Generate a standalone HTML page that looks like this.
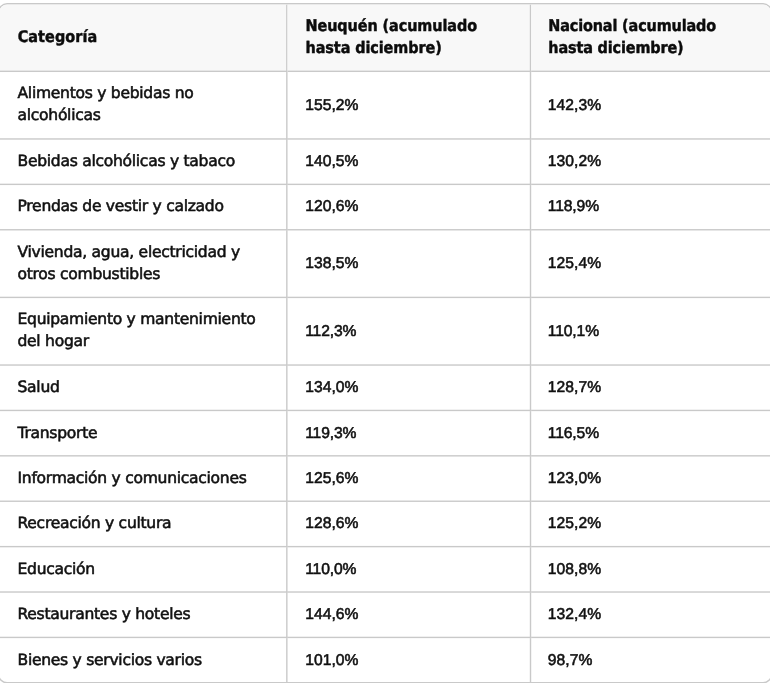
<!DOCTYPE html>
<html lang="es">
<head>
<meta charset="utf-8">
<title>Inflación por categoría</title>
<style>
  html, body { margin: 0; padding: 0; background: #fff; }
  body { width: 770px; height: 683px; overflow: hidden; position: relative; }
  .wrap {
    position: absolute; left: -1.990px; top: 2.705px; width: 1670.98px;
    transform-origin: 0 0; transform: scale(0.46325);
    border: 3px solid #c9c9c9; border-radius: 19.6px; overflow: hidden;
    box-sizing: border-box; background: #fff;
  }
  table {
    border-collapse: separate; border-spacing: 0; text-rendering: geometricPrecision; table-layout: fixed; width: 100%;
    font-family: "DejaVu Sans", "Liberation Sans", sans-serif;
    font-size: 33.6px; letter-spacing: -0.6px; line-height: 47.4px; color: #111;
    -webkit-text-stroke: 1.24px #111;
  }
  th, td {
    padding: 0 28px 0 39.07px; text-align: left; vertical-align: middle;
    border-bottom: 3px solid #c9c9c9; border-right: 3px solid #c9c9c9;
    box-sizing: border-box; font-weight: normal;
  }
  td > span, th > span { display: block; position: relative; }
  td > span { top: -2px; }
  th {
    background: #f8f8f8;
    font-family: "DejaVu Sans Condensed", "DejaVu Sans", "Liberation Sans", sans-serif;
    font-stretch: condensed; font-weight: bold; line-height: 48px; font-size: 34.6px; letter-spacing: -0.18px;
    color: #0c0c0c; -webkit-text-stroke: 0.9px #0c0c0c;
  }
  th > span { top: -0.7px; left: 0.4px; }
  th:first-child { letter-spacing: 0.16px; }
  th:nth-child(2) { padding-left: 38.11px; }
  th:last-child { padding-left: 36.71px; letter-spacing: -0.3px; }
  th:last-child, td:last-child { border-right: 0; }
  tr:last-child td { border-bottom: 0; }
  td.n {
    font-family: "Liberation Sans", "DejaVu Sans", sans-serif;
    font-size: 33.8px; letter-spacing: 0.1px;
    padding-left: 37.72px;
    -webkit-text-stroke: 1.2px #111;
  }
  td.n > span { top: -0.8px; }
  td.k { letter-spacing: -0.24px; }
  td.n:last-child { padding-left: 35.95px; }
</style>
</head>
<body>
<div class="wrap">
<table>
  <colgroup><col style="width:622.33px"><col style="width:525.42px"><col></colgroup>
  <thead>
    <tr style="height:145.60px"><th><span>Categoría</span></th><th><span>Neuquén (acumulado<br>hasta diciembre)</span></th><th><span>Nacional (acumulado<br>hasta diciembre)</span></th></tr>
  </thead>
  <tbody>
    <tr style="height:146.14px"><td><span>Alimentos y bebidas no<br>alcohólicas</span></td><td class="n"><span>155,2%</span></td><td class="n"><span>142,3%</span></td></tr>
    <tr style="height:98.00px"><td><span>Bebidas alcohólicas y tabaco</span></td><td class="n"><span>140,5%</span></td><td class="n"><span>130,2%</span></td></tr>
    <tr style="height:98.00px"><td><span>Prendas de vestir y calzado</span></td><td class="n"><span>120,6%</span></td><td class="n k"><span>118,9%</span></td></tr>
    <tr style="height:146.03px"><td><span>Vivienda, agua, electricidad y<br>otros combustibles</span></td><td class="n"><span>138,5%</span></td><td class="n"><span>125,4%</span></td></tr>
    <tr style="height:146.25px"><td><span>Equipamiento y mantenimiento<br>del hogar</span></td><td class="n k"><span>112,3%</span></td><td class="n k"><span>110,1%</span></td></tr>
    <tr style="height:98.00px"><td><span>Salud</span></td><td class="n"><span>134,0%</span></td><td class="n"><span>128,7%</span></td></tr>
    <tr style="height:98.00px"><td><span>Transporte</span></td><td class="n k"><span>119,3%</span></td><td class="n k"><span>116,5%</span></td></tr>
    <tr style="height:98.00px"><td><span>Información y comunicaciones</span></td><td class="n"><span>125,6%</span></td><td class="n"><span>123,0%</span></td></tr>
    <tr style="height:98.00px"><td><span>Recreación y cultura</span></td><td class="n"><span>128,6%</span></td><td class="n"><span>125,2%</span></td></tr>
    <tr style="height:98.00px"><td><span>Educación</span></td><td class="n k"><span>110,0%</span></td><td class="n"><span>108,8%</span></td></tr>
    <tr style="height:98.00px"><td><span>Restaurantes y hoteles</span></td><td class="n"><span>144,6%</span></td><td class="n"><span>132,4%</span></td></tr>
    <tr style="height:94.90px"><td><span>Bienes y servicios varios</span></td><td class="n"><span>101,0%</span></td><td class="n"><span>98,7%</span></td></tr>
  </tbody>
</table>
</div>
</body>
</html>
